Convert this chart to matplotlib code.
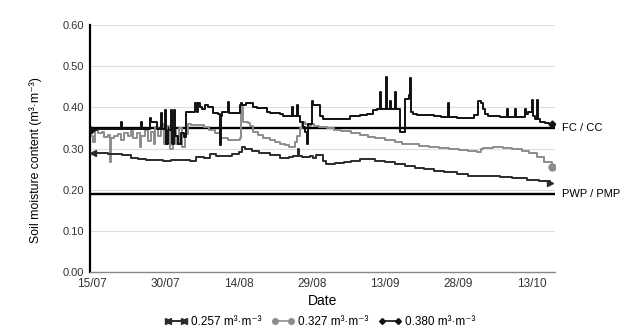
import matplotlib
matplotlib.use("Agg")
import matplotlib.pyplot as plt
from matplotlib.lines import Line2D
from matplotlib.legend_handler import HandlerTuple

plt.rcParams['font.family'] = ['Liberation Sans', 'DejaVu Sans']
narrow = ['Liberation Sans Narrow', 'Liberation Sans', 'DejaVu Sans']

# days since 15/07
tick_days = [0, 15, 30, 45, 60, 75, 90]
tick_labels = ['15/07', '30/07', '14/08', '29/08', '13/09', '28/09', '13/10']

fc = 0.35
pwp = 0.19

# sensor 0.257 m3/m3
days_a = [0.2, 3.3, 6.1, 8.0, 9.4, 11.0, 13.0, 14.5, 16.2, 18.0, 20.0, 21.3, 23.0,
          24.1, 25.4, 27.2, 28.6, 30.0, 30.7, 31.4, 32.7, 34.2, 36.4, 38.4, 40.3,
          41.1, 42.1, 42.3, 43.0, 44.6, 45.2, 45.8, 47.2, 47.9, 49.7, 51.5, 53.0,
          54.8, 56.5, 58.0, 60.0, 62.0, 64.0, 66.0, 68.0, 70.0, 72.0, 74.6, 77.0,
          80.0, 83.4, 86.0, 89.0, 91.5, 93.7]
vals_a = [0.289, 0.288, 0.285, 0.278, 0.274, 0.272, 0.273, 0.270, 0.272, 0.273, 0.270,
          0.279, 0.277, 0.287, 0.281, 0.283, 0.288, 0.291, 0.305, 0.298, 0.293, 0.289,
          0.284, 0.277, 0.279, 0.281, 0.300, 0.281, 0.279, 0.281, 0.278, 0.284, 0.271,
          0.262, 0.264, 0.268, 0.271, 0.274, 0.274, 0.271, 0.267, 0.262, 0.258, 0.254,
          0.250, 0.246, 0.242, 0.237, 0.234, 0.233, 0.231, 0.228, 0.224, 0.220, 0.216]

# sensor 0.327 m3/m3
days_b = [0.0, 0.3, 0.6, 1.2, 2.0, 2.5, 3.3, 3.6, 3.9, 4.5, 5.3, 6.0, 6.6, 7.3, 8.0,
          8.5, 9.2, 9.8, 10.1, 10.8, 11.4, 12.0, 12.6, 13.0, 13.6, 14.2, 14.8, 15.4,
          16.0, 16.6, 17.2, 17.8, 18.4, 19.0, 19.6, 20.2, 21.1, 23.0, 24.0, 25.2,
          26.4, 27.8, 29.5, 30.3, 30.5, 30.8, 32.0, 32.3, 33.0, 34.0, 35.0, 36.5,
          37.5, 38.5, 39.5, 40.3, 41.0, 41.5, 42.0, 42.5, 42.9, 43.6, 44.3, 44.8,
          45.5, 46.5, 48.0, 49.5, 51.0, 53.0, 54.8, 56.5, 58.0, 60.0, 62.0, 63.5,
          65.0, 67.0, 69.0, 71.0, 73.0, 75.0, 77.0, 78.7, 79.5, 80.0, 82.0, 84.0,
          86.0, 88.0, 89.5, 91.0, 92.5, 94.1]
vals_b = [0.330, 0.315, 0.345, 0.338, 0.340, 0.328, 0.333, 0.268, 0.325, 0.330, 0.336,
          0.322, 0.338, 0.330, 0.342, 0.325, 0.338, 0.303, 0.330, 0.345, 0.318, 0.340,
          0.310, 0.352, 0.330, 0.360, 0.310, 0.355, 0.300, 0.345, 0.312, 0.350, 0.305,
          0.335, 0.360, 0.358, 0.357, 0.352, 0.345, 0.338, 0.325, 0.322, 0.321, 0.325,
          0.400, 0.364, 0.363, 0.355, 0.340, 0.333, 0.325, 0.322, 0.317, 0.312, 0.309,
          0.305, 0.304, 0.315, 0.330, 0.350, 0.364, 0.360, 0.355, 0.360, 0.355, 0.352,
          0.350, 0.346, 0.343, 0.338, 0.333, 0.329, 0.325, 0.320, 0.315, 0.312, 0.310,
          0.307, 0.304, 0.301, 0.298, 0.296, 0.293, 0.291, 0.298, 0.301, 0.303, 0.302,
          0.299, 0.294, 0.289, 0.280, 0.268, 0.256]

# sensor 0.380 m3/m3
days_c = [-0.2, 1.0, 5.9, 6.1, 10.0, 10.2, 11.9, 12.1, 12.8, 13.4,
          14.1, 14.3, 14.9, 15.1, 15.6, 16.2, 16.4, 16.8, 17.0, 17.6,
          18.2, 18.8, 19.2, 19.8, 21.1, 21.4, 21.7, 22.1, 22.6, 23.1,
          23.7, 24.7, 25.8, 26.2, 26.4, 26.6, 27.8, 28.0,
          30.3, 30.5, 30.7, 31.5, 32.3, 32.9, 33.7, 35.8, 36.4, 38.4, 39.1,
          40.9, 41.1, 41.9, 42.1, 42.6, 43.1, 43.6, 44.0, 44.2, 45.0, 45.3, 46.2,
          46.6, 47.2, 50.7, 52.8, 54.8, 56.2, 57.5, 58.3, 58.9, 59.1, 60.1, 60.3,
          60.9, 61.1, 62.0, 62.2, 63.0, 63.1, 64.0, 64.1, 64.8, 65.0, 65.2, 65.6,
          66.5, 70.0, 71.5, 72.8, 73.0, 74.6, 77.5, 78.2, 78.9, 79.6, 80.0, 80.4,
          81.0, 83.4, 84.9, 85.1, 86.5, 86.7, 88.6, 88.8, 89.2, 90.0, 90.2, 90.6,
          91.0, 91.2, 91.6, 92.6, 93.5, 94.1]
vals_c = [0.345, 0.347, 0.364, 0.347, 0.364, 0.347, 0.374, 0.364, 0.364, 0.347,
          0.386, 0.347, 0.393, 0.310, 0.345, 0.393, 0.310, 0.393, 0.330, 0.310,
          0.338, 0.328, 0.390, 0.388, 0.410, 0.390, 0.410, 0.400, 0.396, 0.405,
          0.400, 0.386, 0.383, 0.308, 0.380, 0.390, 0.413, 0.386,
          0.405, 0.410, 0.405, 0.410, 0.410, 0.402, 0.398, 0.390, 0.387, 0.385, 0.380,
          0.400, 0.380, 0.405, 0.380, 0.365, 0.352, 0.340, 0.310, 0.360, 0.415, 0.405, 0.405,
          0.380, 0.373, 0.373, 0.378, 0.381, 0.385, 0.393, 0.397, 0.437, 0.395, 0.474, 0.395,
          0.415, 0.395, 0.437, 0.395, 0.395, 0.340, 0.340, 0.420, 0.430, 0.471, 0.390, 0.385,
          0.381, 0.380, 0.377, 0.410, 0.377, 0.374, 0.374, 0.381, 0.415, 0.410, 0.396, 0.385,
          0.379, 0.377, 0.395, 0.377, 0.395, 0.377, 0.395, 0.385, 0.390, 0.418, 0.380, 0.372,
          0.418, 0.372, 0.364, 0.362, 0.360, 0.359]

labels = ['0.257 m³·m⁻³', '0.327 m³·m⁻³', '0.380 m³·m⁻³']
col_a = '#2b2b2b'
col_b = '#8c8c8c'
col_c = '#111111'

fig = plt.figure(figsize=(6.27, 3.35), dpi=100)
ax = fig.add_axes([0.1435, 0.188, 0.7415, 0.737])

ax.axhline(fc, color='black', lw=1.7, zorder=2)
ax.axhline(pwp, color='black', lw=1.7, zorder=2)

ax.plot(days_b, vals_b, color=col_b, lw=1.4, drawstyle='steps-post', zorder=3)
ax.plot(days_b[-1:], vals_b[-1:], 'o', color=col_b, ms=5, zorder=4)

ax.plot(days_a, vals_a, color=col_a, lw=1.4, drawstyle='steps-post', zorder=4)
ax.plot(days_a[:1], vals_a[:1], '<', color=col_a, ms=4, zorder=5)
ax.plot(days_a[-1:], vals_a[-1:], '>', color=col_a, ms=4, zorder=5)

ax.plot(days_c, vals_c, color=col_c, lw=1.4, drawstyle='steps-post', zorder=5)
ax.plot([days_c[0], days_c[-1]], [vals_c[0], vals_c[-1]], 'D', color=col_c, ms=3.5,
        ls='none', zorder=6)

ax.set_xlim(-0.4, 94.7)
ax.set_ylim(0, 0.6)
ax.set_yticks([0, 0.1, 0.2, 0.3, 0.4, 0.5, 0.6])
ax.set_yticklabels(['%.2f' % v for v in ax.get_yticks()], fontsize=8, color='#333333')
ax.set_xticks(tick_days)
ax.set_xticklabels(tick_labels, fontsize=8.5, color='#333333', family=narrow)
ax.tick_params(length=0, pad=4)
ax.yaxis.grid(True, color='#dddddd', lw=0.8)
ax.set_axisbelow(True)
for s in ['top', 'right']:
    ax.spines[s].set_visible(False)
ax.spines['left'].set_linewidth(1.6)
ax.spines['left'].set_color('black')
ax.spines['bottom'].set_color('#888888')
ax.spines['bottom'].set_linewidth(1.0)

ax.set_xlabel('Date', fontsize=10, labelpad=3, family=narrow)
ax.set_ylabel('Soil moisture content (m³·m⁻³)', fontsize=8.8)
ax.yaxis.set_label_coords(-0.103, 0.453)

tr = ax.get_yaxis_transform()
ax.text(1.015, fc, 'FC / CC', transform=tr, fontsize=8, va='center',
        clip_on=False, family=narrow)
ax.text(1.015, pwp, 'PWP / PMP', transform=tr, fontsize=8, va='center',
        clip_on=False, family=narrow)

# legend proxies
h_a = (Line2D([0, 1], [0, 0], color=col_a, lw=1.2, marker='<', ms=4, markevery=[0]),
       Line2D([0, 1], [0, 0], color=col_a, lw=1.2, marker='>', ms=4, markevery=[1]))
h_b = Line2D([0, 1], [0, 0], color=col_b, lw=1.2, marker='o', ms=4)
h_c = Line2D([0, 1], [0, 0], color=col_c, lw=1.2, marker='D', ms=3)
fig.legend([h_a, h_b, h_c], labels, loc='lower center', bbox_to_anchor=(0.51, -0.01),
           ncol=3, frameon=False, numpoints=2, handlelength=2.0,
           handletextpad=0.3, columnspacing=0.8,
           prop={'family': narrow, 'size': 8.5},
           handler_map={tuple: HandlerTuple(ndivide=1)})

fig.savefig('out.png', dpi=100)
